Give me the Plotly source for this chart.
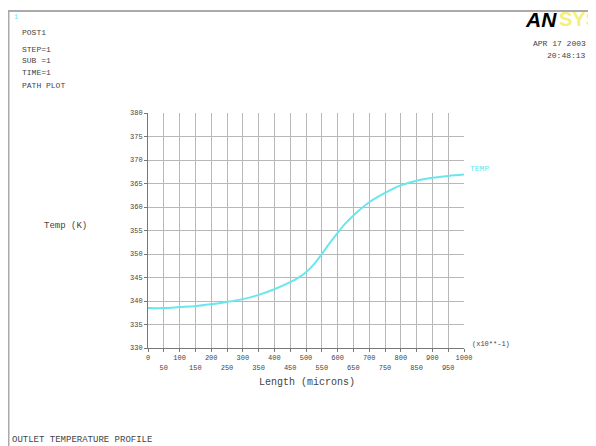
import plotly.graph_objects as go

# ---- data ----
length_x = [0, 50, 100, 150, 200, 250, 300, 350, 400, 450, 475, 500, 525, 550,
            575, 600, 625, 650, 700, 750, 800, 850, 900, 950, 1000]
temp_k = [338.5, 338.5, 338.7, 338.9, 339.3, 339.8, 340.4, 341.3, 342.5, 344.0,
          344.9, 346.1, 347.8, 350.0, 352.3, 354.5, 356.5, 358.2, 361.0, 363.0,
          364.6, 365.6, 366.2, 366.6, 366.9]
x_ticks = list(range(0, 1001, 50))
x_ticktext = [str(v) if (v // 50) % 2 == 0 else "<br>" + str(v) for v in x_ticks]
y_ticks = list(range(330, 381, 5))
y_ticktext = [str(v) for v in y_ticks]

OFF = 8  # browser body margin
W, H = 596 - OFF, 446 - OFF
# plot area in screen pixels
SL, SR, ST, SB = 148, 464, 113, 348
L, R, T, B = SL - OFF, SR - OFF, ST - OFF, SB - OFF

def px(x):
    return (x - OFF - L) / (R - L)

def py(y):
    return (B - (y - OFF)) / (B - T)

MONO = "Liberation Mono"
GRAY = "#444444"
CYAN = "#6ae6ee"

fig = go.Figure()
fig.add_trace(go.Scatter(x=length_x, y=temp_k, mode="lines",
                         line=dict(color=CYAN, width=2, shape="spline", smoothing=1.0),
                         showlegend=False, hoverinfo="x+y"))

fig.update_layout(
    width=W, height=H,
    margin=dict(l=L, r=W - R, t=T, b=H - B, pad=0),
    paper_bgcolor="white", plot_bgcolor="white",
    font=dict(family=MONO, size=9, color=GRAY),
    showlegend=False,
    xaxis=dict(range=[0, 1000], tickvals=x_ticks, ticktext=x_ticktext, tickangle=0,
               showgrid=True, gridcolor="#b8b8b8", gridwidth=1,
               showline=True, linecolor="#777777", linewidth=1, mirror=False,
               ticks="outside", ticklen=3, tickcolor="#777777",
               tickfont=dict(family=MONO, size=7, color=GRAY), zeroline=False),
    yaxis=dict(range=[330, 380], tickvals=y_ticks, ticktext=y_ticktext,
               showgrid=True, gridcolor="#b8b8b8", gridwidth=1,
               showline=True, linecolor="#777777", linewidth=1,
               ticks="outside", ticklen=3, tickcolor="#777777",
               tickfont=dict(family=MONO, size=7, color=GRAY), zeroline=False),
)

def note(text, x, y, xanchor="left", yanchor="middle", size=9, color=GRAY):
    fig.add_annotation(text=text, x=px(x), y=py(y), xref="paper", yref="paper",
                       xanchor=xanchor, yanchor=yanchor, showarrow=False,
                       font=dict(family=MONO, size=size, color=color))

note("1", 12, 17, size=7, color=CYAN)
note("POST1", 20, 32, size=8)
note("STEP=1", 20, 49, size=8)
note("SUB =1", 20, 61, size=8)
note("TIME=1", 20, 72, size=8)
note("PATH PLOT", 20, 86, size=8)
note("APR 17 2003", 588, 44, xanchor="right", size=8)
note("20:48:13", 588, 55, xanchor="right", size=8)
note("Temp (K)", 42, 226, size=9)
note("Length (microns)", 307, 382, xanchor="center", size=10)
note("(x10**-1)", 470, 344, size=7)
note("TEMP", 468, 168, color=CYAN, size=8)
note("OUTLET TEMPERATURE PROFILE", 10, 440, size=9)

# ANSYS logo
fig.add_annotation(text="<b><i>AN</i></b>", x=px(559), y=py(19), xref="paper", yref="paper",
                   xanchor="right", yanchor="middle", showarrow=False,
                   font=dict(family="Liberation Sans", size=21, color="black"))
fig.add_annotation(text="<b>SYS</b>", x=px(557), y=py(19), xref="paper", yref="paper",
                   xanchor="left", yanchor="middle", showarrow=False,
                   font=dict(family="Liberation Sans", size=20, color="#f4f07a"))

# window frame
fig.add_shape(type="line", xref="paper", yref="paper", x0=px(8), x1=px(596),
              y0=py(11), y1=py(11), line=dict(color="#aaaaaa", width=2))
fig.add_shape(type="line", xref="paper", yref="paper", x0=px(8.5), x1=px(8.5),
              y0=py(11), y1=py(446), line=dict(color="#aaaaaa", width=2))

fig.write_html("out.html")
